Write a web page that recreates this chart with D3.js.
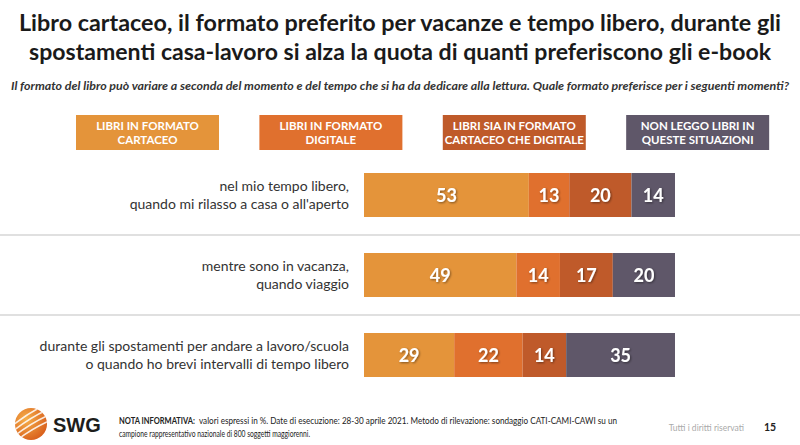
<!DOCTYPE html>
<html>
<head>
<meta charset="utf-8">
<script src="https://cdn.jsdelivr.net/npm/d3@7"></script>
<style>
  body { margin: 0; background: #fff; }
  svg { display: block; }
</style>
</head>
<body>
<div id="chart"></div>
<script>
// dati
const momenti = [
  ["nel mio tempo libero,", "quando mi rilasso a casa o all'aperto"],
  ["mentre sono in vacanza,", "quando viaggio"],
  ["durante gli spostamenti per andare a lavoro/scuola", "o quando ho brevi intervalli di tempo libero"]
];
const formati = [
  ["LIBRI IN FORMATO", "CARTACEO"],
  ["LIBRI IN FORMATO", "DIGITALE"],
  ["LIBRI SIA IN FORMATO", "CARTACEO CHE DIGITALE"],
  ["NON LEGGO LIBRI IN", "QUESTE SITUAZIONI"]
];
const cartaceo = [53, 49, 29];
const digitale = [13, 14, 22];
const entrambi = [20, 17, 14];
const nonLeggo = [14, 20, 35];

const colori = ["#e4943a", "#e0702e", "#bf5a2a", "#5f5769"];
const font = "Lato, 'Open Sans', sans-serif";

const width = 800, height = 445;

const svg = d3.select("#chart").append("svg")
  .attr("width", width)
  .attr("height", height);

// titolo
const titolo = [
  { t: "Libro cartaceo, il formato preferito per vacanze e tempo libero, durante gli", w: 762 },
  { t: "spostamenti casa-lavoro si alza la quota di quanti preferiscono gli e-book", w: 742 }
];
svg.selectAll(".title")
  .data(titolo)
  .join("text")
  .attr("class", "title")
  .attr("x", width / 2)
  .attr("y", (d, i) => 31 + i * 29)
  .attr("text-anchor", "middle")
  .attr("font-family", font)
  .attr("font-weight", "bold")
  .attr("font-size", 23)
  .attr("fill", "#1a1a1a")
  .attr("textLength", d => d.w)
  .attr("lengthAdjust", "spacingAndGlyphs")
  .text(d => d.t);

svg.append("text")
  .attr("x", width / 2)
  .attr("y", 90)
  .attr("text-anchor", "middle")
  .attr("font-family", font)
  .attr("font-style", "italic")
  .attr("font-weight", "bold")
  .attr("font-size", 11.5)
  .attr("fill", "#333")
  .attr("textLength", 778)
  .attr("lengthAdjust", "spacingAndGlyphs")
  .text("Il formato del libro può variare a seconda del momento e del tempo che si ha da dedicare alla lettura. Quale formato preferisce per i seguenti momenti?");

// legenda
const legX = d3.scaleBand().domain(d3.range(4)).range([76, 776]).paddingInner(0.183).paddingOuter(0);
const leg = svg.selectAll(".leg")
  .data(formati)
  .join("g")
  .attr("class", "leg")
  .attr("transform", (d, i) => `translate(${legX(i)},115)`);
leg.append("rect")
  .attr("width", 143)
  .attr("height", 35)
  .attr("fill", (d, i) => colori[i]);
leg.selectAll("text")
  .data(d => d)
  .join("text")
  .attr("x", 71.5)
  .attr("y", (d, i) => 15 + i * 14)
  .attr("text-anchor", "middle")
  .attr("font-family", font)
  .attr("font-weight", "bold")
  .attr("font-size", 11.5)
  .attr("fill", "#fff")
  .text(d => d);

// barre
const x = d3.scaleLinear().domain([0, 100]).range([364, 675]);
const y = d3.scaleBand().domain(d3.range(3)).range([155, 395]).paddingInner(0.45).paddingOuter(0.225);

const serie = [cartaceo, digitale, entrambi, nonLeggo];
const rows = momenti.map((m, i) => {
  let acc = 0;
  return serie.map((s, k) => {
    const seg = { row: i, k: k, v: s[i], x0: acc, x1: acc + s[i] };
    acc += s[i];
    return seg;
  });
});

// linee di separazione
svg.selectAll(".sep")
  .data([235, 315])
  .join("line")
  .attr("class", "sep")
  .attr("x1", 0).attr("x2", width)
  .attr("y1", d => d).attr("y2", d => d)
  .attr("stroke", "#d6d6d6")
  .attr("stroke-width", 1.5);

const defs = svg.append("defs");
defs.append("filter").attr("id", "ombra")
  .append("feDropShadow")
  .attr("dx", 1).attr("dy", 1).attr("stdDeviation", 0.8)
  .attr("flood-color", "#000").attr("flood-opacity", 0.45);

const segs = rows.flat();
svg.selectAll(".seg")
  .data(segs)
  .join("rect")
  .attr("class", "seg")
  .attr("x", d => x(d.x0))
  .attr("y", d => y(d.row))
  .attr("width", d => x(d.x1) - x(d.x0))
  .attr("height", y.bandwidth())
  .attr("fill", d => colori[d.k]);

svg.selectAll(".val")
  .data(segs)
  .join("text")
  .attr("class", "val")
  .attr("x", d => (x(d.x0) + x(d.x1)) / 2)
  .attr("y", d => y(d.row) + y.bandwidth() / 2 + 6.5)
  .attr("text-anchor", "middle")
  .attr("font-family", font)
  .attr("font-weight", "bold")
  .attr("font-size", 18)
  .attr("fill", "#fff")
  .attr("filter", "url(#ombra)")
  .text(d => d.v);

// etichette
const lab = svg.selectAll(".lab")
  .data(momenti)
  .join("g")
  .attr("class", "lab")
  .attr("transform", (d, i) => `translate(349,${y(i) + y.bandwidth() / 2})`);
lab.selectAll("text")
  .data(d => d)
  .join("text")
  .attr("x", 0)
  .attr("y", (d, i) => -4 + i * 18)
  .attr("text-anchor", "end")
  .attr("font-family", font)
  .attr("font-size", 14)
  .attr("fill", "#333")
  .text(d => d);

// footer: logo SWG
const grad = defs.append("radialGradient").attr("id", "sfera")
  .attr("cx", "35%").attr("cy", "35%").attr("r", "70%");
grad.append("stop").attr("offset", "0%").attr("stop-color", "#f6b04a");
grad.append("stop").attr("offset", "100%").attr("stop-color", "#d9601c");
const logo = svg.append("g").attr("transform", "translate(31,424)");
logo.append("circle").attr("r", 16).attr("fill", "url(#sfera)");
defs.append("clipPath").attr("id", "clipSfera").append("circle").attr("r", 16);
logo.append("g").attr("clip-path", "url(#clipSfera)")
  .selectAll("path")
  .data([-9, -3, 3, 9])
  .join("path")
  .attr("d", d => `M-18,${d + 10} Q0,${d - 4} 18,${d - 12}`)
  .attr("fill", "none")
  .attr("stroke", "#fff")
  .attr("stroke-width", 1.6)
  .attr("opacity", 0.85);
svg.append("text")
  .attr("x", 53).attr("y", 432)
  .attr("font-family", "Liberation Sans, Arial, sans-serif")
  .attr("font-weight", "bold")
  .attr("font-size", 20)
  .attr("fill", "#1d1d1b")
  .text("SWG");

// nota informativa
const notaTesti = [
  { t: "NOTA INFORMATIVA:", x: 119, y: 424, w: 76, b: true },
  { t: "valori espressi in %. Date di esecuzione: 28-30 aprile 2021. Metodo di rilevazione: sondaggio CATI-CAMI-CAWI su un", x: 199, y: 424, w: 418, b: false },
  { t: "campione rappresentativo nazionale di 800 soggetti maggiorenni.", x: 119, y: 437, w: 191, b: false }
];
svg.selectAll(".nota")
  .data(notaTesti)
  .join("text")
  .attr("class", "nota")
  .attr("x", d => d.x)
  .attr("y", d => d.y)
  .attr("font-family", font)
  .attr("font-size", 8.5)
  .attr("font-weight", d => d.b ? "bold" : "normal")
  .attr("fill", "#222")
  .attr("textLength", d => d.w)
  .attr("lengthAdjust", "spacingAndGlyphs")
  .text(d => d.t);

svg.append("text")
  .attr("x", 744).attr("y", 431)
  .attr("text-anchor", "end")
  .attr("font-family", font)
  .attr("font-size", 8.5)
  .attr("fill", "#aaa")
  .text("Tutti i diritti riservati");
svg.append("text")
  .attr("x", 770).attr("y", 431)
  .attr("text-anchor", "middle")
  .attr("font-family", font)
  .attr("font-weight", "bold")
  .attr("font-size", 10.5)
  .attr("fill", "#222")
  .text("15");
</script>
</body>
</html>
